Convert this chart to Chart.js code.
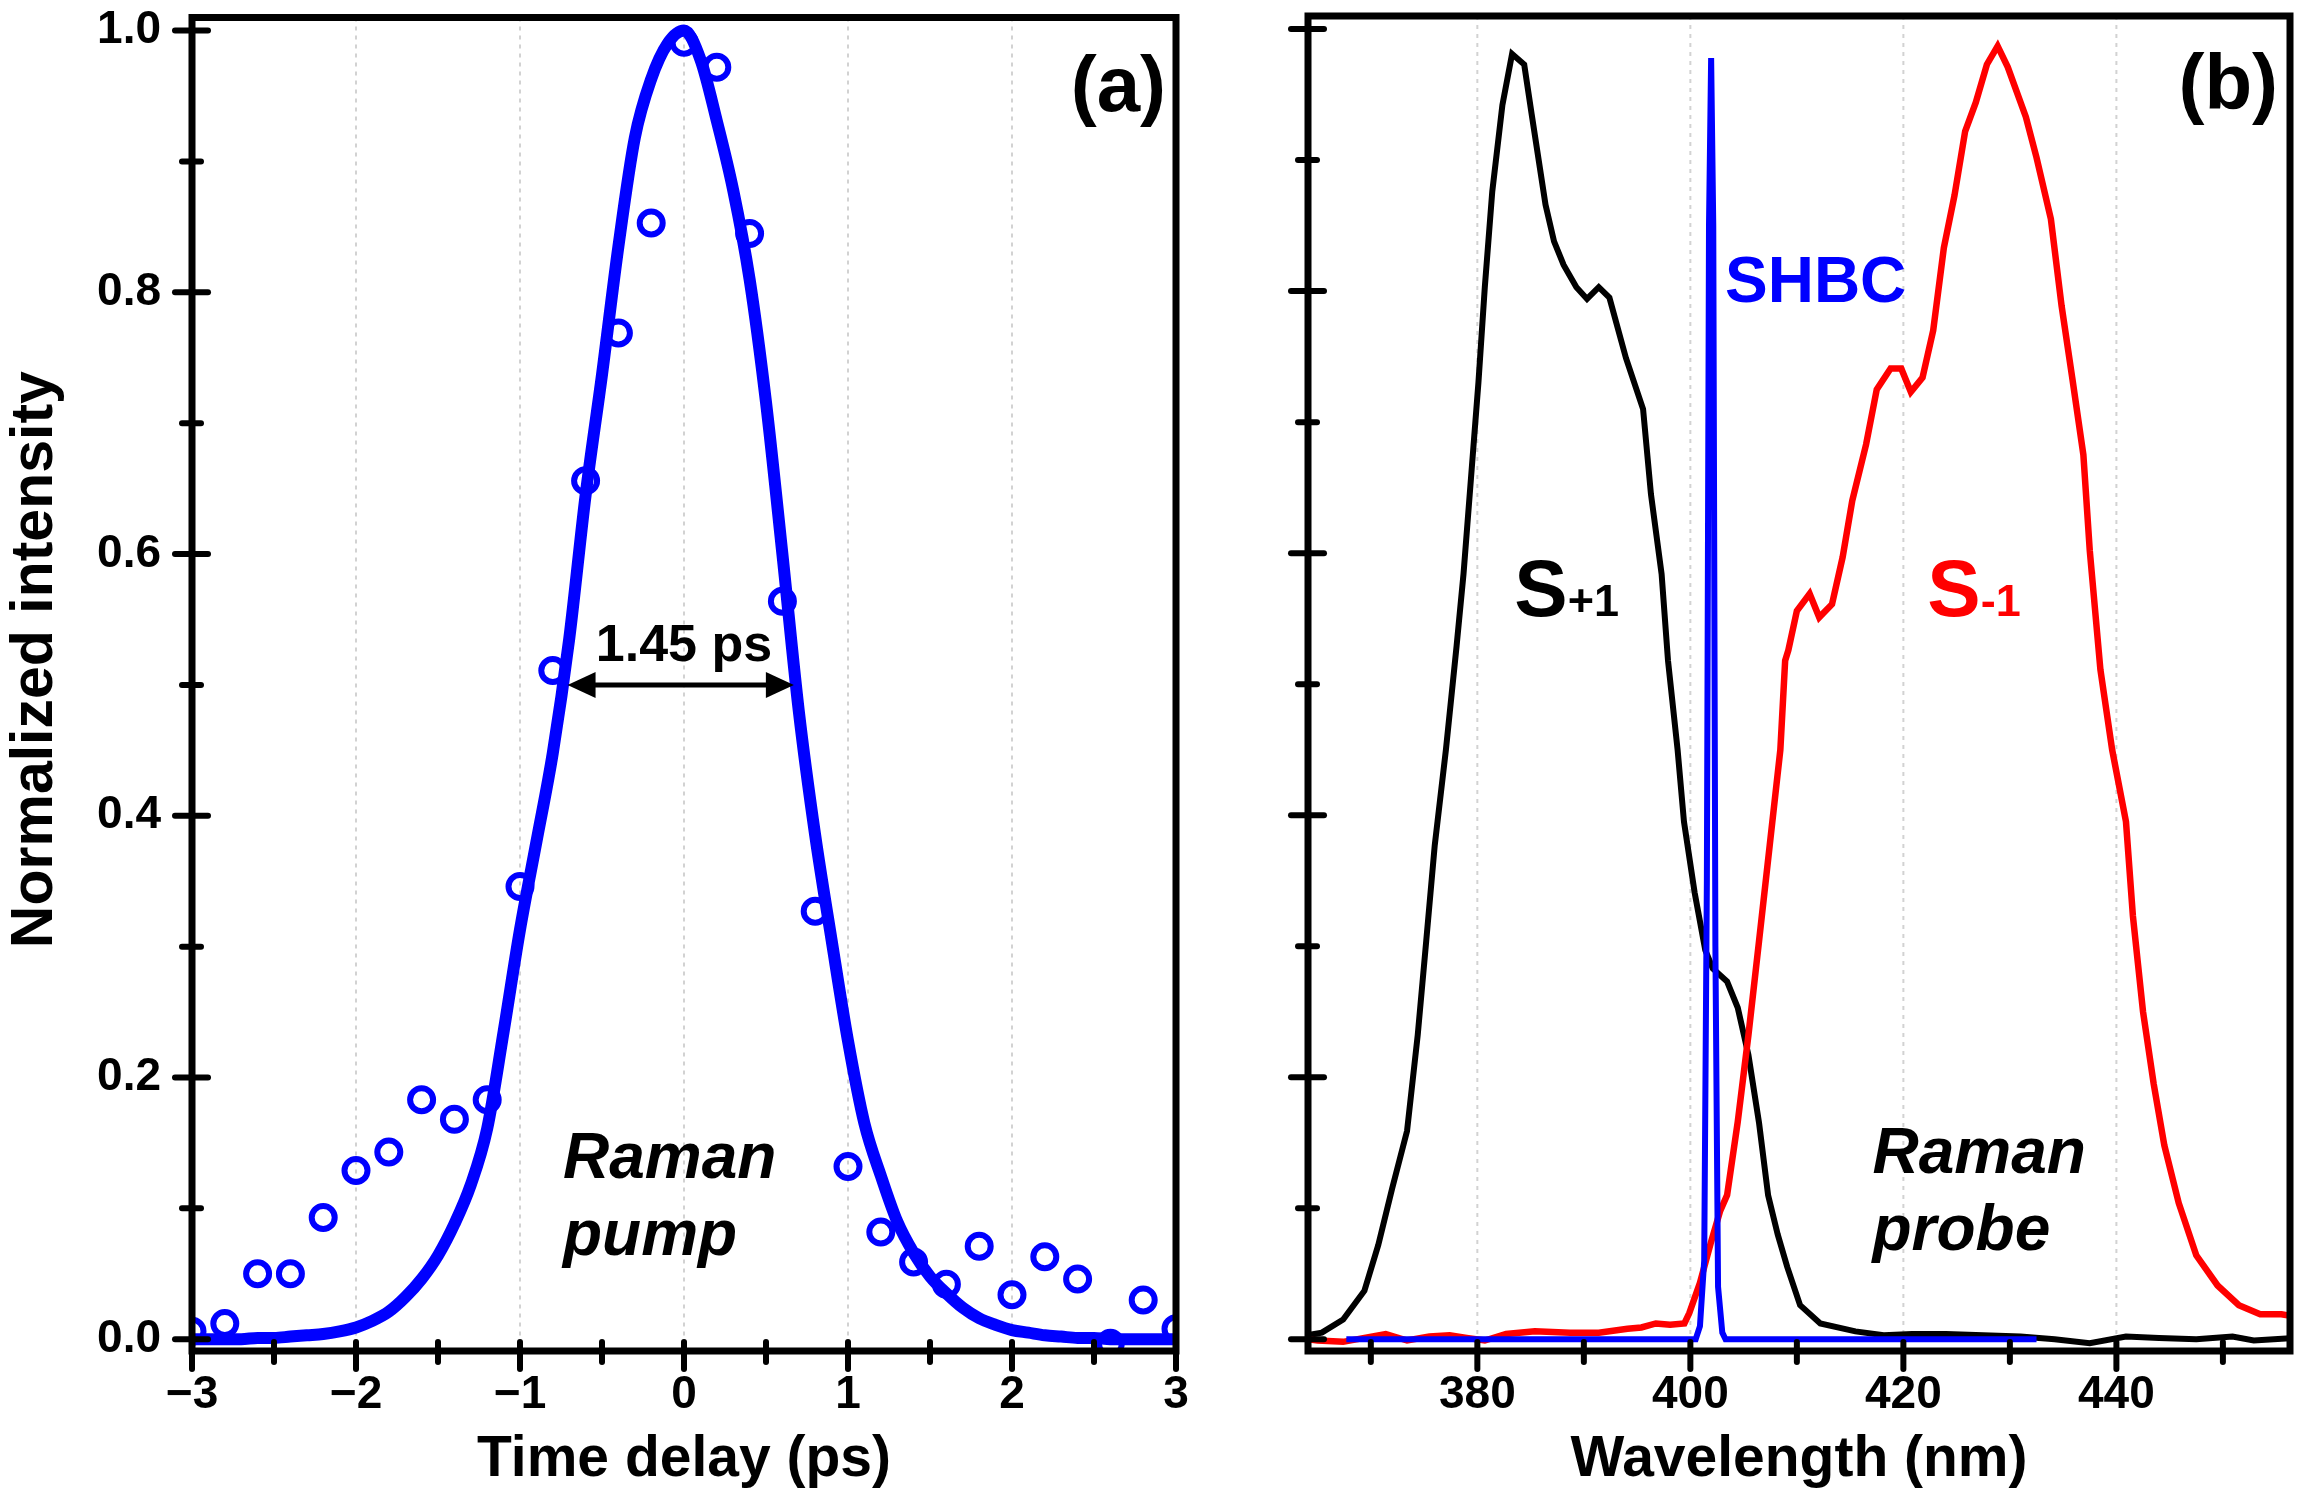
<!DOCTYPE html>
<html>
<head>
<meta charset="utf-8">
<script src="https://cdn.jsdelivr.net/npm/chart.js@4.4.1/dist/chart.umd.min.js"></script>
<style>
html,body{margin:0;padding:0;background:#fff;width:2308px;height:1496px;overflow:hidden}
canvas{position:absolute;top:0}
#ca{left:0}
#cb{left:1240px}
</style>
</head>
<body>
<canvas id="ca" width="1240" height="1496"></canvas>
<canvas id="cb" width="1068" height="1496"></canvas>
<script>
// ---------- Panel (a): time delay data ----------
const ptT = [-3.0,-2.8,-2.6,-2.4,-2.2,-2.0,-1.8,-1.6,-1.4,-1.2,-1.0,-0.8,-0.6,-0.4,-0.2,0.0,0.2,0.4,0.6,0.8,1.0,1.2,1.4,1.6,1.8,2.0,2.2,2.4,2.6,2.8,3.0];
const ptI = [0.006,0.012,0.050,0.050,0.093,0.129,0.143,0.183,0.168,0.183,0.346,0.511,0.656,0.769,0.853,0.991,0.972,0.845,0.564,0.327,0.132,0.082,0.059,0.042,0.071,0.034,0.063,0.046,-0.003,0.030,0.008];

const fitT = [-3.0,-2.9,-2.8,-2.7,-2.6,-2.5,-2.4,-2.3,-2.2,-2.1,-2.0,-1.9,-1.8,-1.7,-1.6,-1.5,-1.4,-1.3,-1.2,-1.1,-1.0,-0.9,-0.8,-0.7,-0.6,-0.5,-0.4,-0.3,-0.2,-0.1,0.0,0.1,0.2,0.3,0.4,0.5,0.6,0.7,0.8,0.9,1.0,1.1,1.2,1.3,1.4,1.5,1.6,1.7,1.8,1.9,2.0,2.1,2.2,2.3,2.4,2.5,2.6,2.7,2.8,2.9,3.0];
const fitI = [0.000,0.000,0.000,0.000,0.001,0.001,0.002,0.003,0.004,0.006,0.009,0.014,0.021,0.032,0.046,0.064,0.088,0.118,0.161,0.235,0.313,0.380,0.448,0.535,0.645,0.737,0.835,0.918,0.963,0.990,1.000,0.978,0.931,0.878,0.810,0.716,0.600,0.480,0.385,0.305,0.228,0.165,0.125,0.090,0.066,0.048,0.035,0.024,0.016,0.011,0.007,0.005,0.003,0.002,0.001,0.001,0.000,0.000,0.000,0.000,0.000];

const aXTicks = [-3,-2,-1,0,1,2,3];
const aXTickLabels = ['\u22123','\u22122','\u22121','0','1','2','3'];
const aXMinor = [-2.5,-1.5,-0.5,0.5,1.5,2.5];
const aGrid = [-2,-1,0,1,2];
const yTicks = [0,0.2,0.4,0.6,0.8,1.0];
const yTickLabels = ['0.0','0.2','0.4','0.6','0.8','1.0'];
const yMinor = [0.1,0.3,0.5,0.7,0.9];
const aXTitle = 'Time delay (ps)';
const aYTitle = 'Normalized intensity';
const aPanel = '(a)';
const aFwhm = '1.45 ps';
const aText = ['Raman','pump'];

// ---------- Panel (b): spectra ----------
const blackNm = [364.0,365.4,367.4,369.4,370.7,372.0,373.4,374.4,375.2,376.0,377.05,378.05,378.7,379.4,380.1,380.7,381.4,382.35,383.26,384.4,385.1,386.4,387.2,388.1,389.3,390.3,391.4,392.4,393.95,395.56,396.3,397.3,397.9,398.8,399.4,400.4,401.4,402.1,403.45,404.45,405.45,406.45,407.3,408.2,409.1,410.3,412.2,415.5,418.15,420.8,424.0,427.5,431.0,434.2,437.5,440.9,444.0,447.5,450.9,452.9,456.9];
const blackInt = [0.003,0.005,0.015,0.037,0.072,0.115,0.159,0.232,0.304,0.377,0.450,0.529,0.584,0.657,0.730,0.803,0.876,0.942,0.981,0.973,0.935,0.866,0.838,0.820,0.803,0.794,0.803,0.795,0.749,0.710,0.645,0.584,0.518,0.450,0.395,0.341,0.297,0.283,0.273,0.253,0.217,0.165,0.110,0.080,0.055,0.026,0.012,0.006,0.003,0.004,0.004,0.003,0.002,0.000,-0.003,0.002,0.001,0.000,0.002,-0.001,0.001];

const redNm = [364.0,365.0,367.4,369.4,371.4,373.4,375.5,377.4,379.0,380.7,382.7,385.4,388.7,391.4,394.1,395.4,396.76,398.1,399.44,399.9,400.9,401.9,402.8,403.45,404.45,405.45,406.45,407.45,408.45,408.9,409.2,410.0,411.2,412.1,413.3,414.3,415.2,416.5,417.5,418.8,419.8,420.7,421.8,422.8,423.8,424.8,425.8,426.8,427.84,428.85,429.8,431.5,432.5,433.85,434.85,435.85,436.9,437.5,438.5,439.6,440.9,441.55,442.5,443.5,444.5,445.85,447.5,449.5,451.5,453.5,455.5,456.9];
const redInt = [0.000,-0.001,-0.002,0.001,0.004,-0.001,0.002,0.003,0.001,-0.001,0.004,0.006,0.005,0.005,0.008,0.009,0.012,0.011,0.012,0.020,0.043,0.073,0.098,0.110,0.166,0.232,0.304,0.377,0.450,0.518,0.526,0.556,0.569,0.551,0.561,0.597,0.640,0.683,0.725,0.741,0.741,0.723,0.734,0.770,0.833,0.873,0.922,0.944,0.973,0.987,0.971,0.933,0.902,0.855,0.789,0.734,0.675,0.602,0.511,0.450,0.395,0.323,0.250,0.195,0.148,0.104,0.064,0.041,0.026,0.019,0.019,0.017];

const blueNm = [367.7,400.5,400.9,401.3,401.55,401.75,401.95,402.15,402.35,402.6,403.0,403.3,432.5];
const blueInt = [0.000,0.000,0.010,0.060,0.350,0.850,0.978,0.850,0.300,0.040,0.005,0.000,0.000];

const bXTicks = [380,400,420,440];
const bXTickLabels = ['380','400','420','440'];
const bXMinor = [370,390,410,430,450];
const bGrid = [380,400,420,440];
const bXTitle = 'Wavelength (nm)';
const bPanel = '(b)';
const bShbc = 'SHBC';
const bSplus = ['S','+1'];
const bSminus = ['S','-1'];
const bText = ['Raman','probe'];

// ---------- styling ----------
const FONT = '"Liberation Sans", Arial, Helvetica, sans-serif';
const BLUE = '#0000ff';
const RED = '#ff0000';

function deco(cfg) {
  return {
    id: 'deco' + cfg.name,
    beforeDatasetsDraw(chart) {
      const {ctx, chartArea: a, scales: {x}} = chart;
      ctx.save();
      ctx.strokeStyle = '#d2d2d2';
      ctx.lineWidth = 2;
      ctx.setLineDash([4, 5]);
      cfg.grid.forEach(v => {
        const p = x.getPixelForValue(v);
        ctx.beginPath(); ctx.moveTo(p, a.top); ctx.lineTo(p, a.bottom); ctx.stroke();
      });
      ctx.restore();
    },
    afterDatasetsDraw(chart) {
      const {ctx, chartArea: a, scales: {x, y}} = chart;
      ctx.save();
      ctx.strokeStyle = '#000';
      ctx.lineCap = 'round';
      ctx.lineWidth = 6;
      const seg = (x1, y1, x2, y2) => { ctx.beginPath(); ctx.moveTo(x1, y1); ctx.lineTo(x2, y2); ctx.stroke(); };
      cfg.xMajor.forEach(v => { const p = x.getPixelForValue(v); seg(p, a.bottom - 9, p, a.bottom + 18); });
      cfg.xMinor.forEach(v => { const p = x.getPixelForValue(v); seg(p, a.bottom - 9, p, a.bottom + 11); });
      cfg.yMajor.forEach(v => { const p = y.getPixelForValue(v); seg(a.left - 17, p, a.left + 16, p); });
      cfg.yMinor.forEach(v => { const p = y.getPixelForValue(v); seg(a.left - 10, p, a.left + 9, p); });
      ctx.lineCap = 'butt';
      ctx.lineJoin = 'miter';
      ctx.lineWidth = 7;
      ctx.strokeRect(a.left, a.top, a.right - a.left, a.bottom - a.top);
      ctx.restore();
    },
    afterDraw(chart) { cfg.annotate(chart); }
  };
}

function annotateA(chart) {
  const {ctx, chartArea: a, scales: {x, y}} = chart;
  ctx.save();
  ctx.fillStyle = '#000';
  ctx.strokeStyle = '#000';
  ctx.textBaseline = 'alphabetic';
  ctx.font = 'bold 78px ' + FONT;
  ctx.textAlign = 'right';
  ctx.fillText(aPanel, a.right - 10, a.top + 93);
  ctx.font = 'bold 52px ' + FONT;
  ctx.textAlign = 'center';
  ctx.fillText(aFwhm, x.getPixelForValue(0.0), y.getPixelForValue(0.518));
  // double arrow at half maximum
  const ay = y.getPixelForValue(0.5);
  const x1 = x.getPixelForValue(-0.71), x2 = x.getPixelForValue(0.67);
  const hl = 28, hh = 13;
  ctx.lineWidth = 5;
  ctx.beginPath(); ctx.moveTo(x1 + hl - 2, ay); ctx.lineTo(x2 - hl + 2, ay); ctx.stroke();
  ctx.beginPath(); ctx.moveTo(x1, ay); ctx.lineTo(x1 + hl, ay - hh); ctx.lineTo(x1 + hl, ay + hh); ctx.closePath(); ctx.fill();
  ctx.beginPath(); ctx.moveTo(x2, ay); ctx.lineTo(x2 - hl, ay - hh); ctx.lineTo(x2 - hl, ay + hh); ctx.closePath(); ctx.fill();
  ctx.font = 'italic bold 64px ' + FONT;
  ctx.textAlign = 'left';
  ctx.fillText(aText[0], x.getPixelForValue(-0.738), y.getPixelForValue(0.123));
  ctx.fillText(aText[1], x.getPixelForValue(-0.738), y.getPixelForValue(0.064));
  ctx.restore();
}

function annotateB(chart) {
  const {ctx, chartArea: a, scales: {x, y}} = chart;
  ctx.save();
  ctx.textBaseline = 'alphabetic';
  ctx.fillStyle = '#000';
  ctx.font = 'bold 78px ' + FONT;
  ctx.textAlign = 'right';
  ctx.fillText(bPanel, a.right - 12, a.top + 93);
  ctx.textAlign = 'left';
  ctx.fillStyle = BLUE;
  ctx.font = 'bold 64px ' + FONT;
  ctx.fillText(bShbc, x.getPixelForValue(403.25), y.getPixelForValue(0.792));
  // S+1
  const sb = y.getPixelForValue(0.552);
  ctx.fillStyle = '#000';
  ctx.font = 'bold 80px ' + FONT;
  let sx = x.getPixelForValue(383.47);
  ctx.fillText(bSplus[0], sx, sb);
  let w = ctx.measureText(bSplus[0]).width;
  ctx.font = 'bold 45px ' + FONT;
  ctx.fillText(bSplus[1], sx + w, sb);
  // S-1
  ctx.fillStyle = RED;
  ctx.font = 'bold 80px ' + FONT;
  sx = x.getPixelForValue(422.25);
  ctx.fillText(bSminus[0], sx, sb);
  w = ctx.measureText(bSminus[0]).width;
  ctx.font = 'bold 45px ' + FONT;
  ctx.fillText(bSminus[1], sx + w, sb);
  // Raman probe
  ctx.fillStyle = '#000';
  ctx.font = 'italic bold 64px ' + FONT;
  ctx.fillText(bText[0], x.getPixelForValue(417.1), y.getPixelForValue(0.127));
  ctx.fillText(bText[1], x.getPixelForValue(417.1), y.getPixelForValue(0.068));
  ctx.restore();
}

const pts = (xs, ys) => xs.map((v, i) => ({x: v, y: ys[i]}));
const tickFont = {family: FONT, size: 46, weight: 'bold'};
const titleFont = {family: FONT, size: 57, weight: 'bold'};

function yScale(showLabels, width, title) {
  return {
    type: 'linear', min: -0.009, max: 1.01, bounds: 'data',
    grid: {display: false, drawTicks: false, tickLength: 0},
    border: {display: false},
    afterBuildTicks: s => { s.ticks = yTicks.map(v => ({value: v})); },
    afterFit: s => { s.width = width; s.paddingTop = 0; s.paddingBottom = 0; },
    ticks: {display: showLabels, autoSkip: false, padding: 31, color: '#000', font: tickFont,
            callback: (v, i) => yTickLabels[i]},
    title: {display: !!title, text: title ? '   ' + title : '', color: '#000',
            font: {family: FONT, size: 59, weight: 'bold', lineHeight: 1.2}, padding: {top: 0, bottom: 0}}
  };
}

function xScale(min, max, ticks, labels, title) {
  return {
    type: 'linear', min: min, max: max, bounds: 'data',
    grid: {display: false, drawTicks: false, tickLength: 0},
    border: {display: false},
    afterBuildTicks: s => { s.ticks = ticks.map(v => ({value: v})); },
    afterFit: s => { s.height = 145; s.paddingLeft = 0; s.paddingRight = 0; },
    ticks: {autoSkip: false, maxRotation: 0, minRotation: 0, padding: 17, color: '#000', font: tickFont,
            callback: (v, i) => labels[i]},
    title: {display: true, text: title, color: '#000', font: Object.assign({lineHeight: 1.2}, titleFont), padding: {top: 0, bottom: 2}}
  };
}

const common = {
  responsive: false, animation: false, devicePixelRatio: 1, events: [],
  plugins: {legend: {display: false}, tooltip: {enabled: false}}
};

new Chart(document.getElementById('ca'), {
  type: 'line',
  data: {
    datasets: [
      {data: pts(ptT, ptI), showLine: false, pointStyle: 'circle', pointRadius: 11.5, pointBorderWidth: 6,
       pointBorderColor: BLUE, pointBackgroundColor: 'rgba(0,0,0,0)', borderColor: BLUE, clip: 0},
      {data: pts(fitT, fitI), borderColor: BLUE, borderWidth: 12, pointRadius: 0,
       cubicInterpolationMode: 'monotone', fill: false, clip: 0}
    ]
  },
  options: Object.assign({}, common, {
    layout: {padding: {top: 16, right: 64, left: 0, bottom: 0}},
    scales: {
      x: xScale(-3, 3, aXTicks, aXTickLabels, aXTitle),
      y: yScale(true, 192, aYTitle)
    }
  }),
  plugins: [deco({name: 'A', grid: aGrid, xMajor: aXTicks, xMinor: aXMinor, yMajor: yTicks, yMinor: yMinor, annotate: annotateA})]
});

new Chart(document.getElementById('cb'), {
  type: 'line',
  data: {
    datasets: [
      {data: pts(blueNm, blueInt), borderColor: BLUE, borderWidth: 6, pointRadius: 0, tension: 0, fill: false, clip: 0},
      {data: pts(redNm, redInt), borderColor: RED, borderWidth: 6.5, pointRadius: 0, tension: 0, fill: false, clip: 0},
      {data: pts(blackNm, blackInt), borderColor: '#000', borderWidth: 6, pointRadius: 0, tension: 0, fill: false, clip: 0}
    ]
  },
  options: Object.assign({}, common, {
    layout: {padding: {top: 16, right: 18, left: 0, bottom: 0}},
    scales: {
      x: xScale(364.1, 456.3, bXTicks, bXTickLabels, bXTitle),
      y: yScale(false, 68, null)
    }
  }),
  plugins: [deco({name: 'B', grid: bGrid, xMajor: bXTicks, xMinor: bXMinor, yMajor: yTicks, yMinor: yMinor, annotate: annotateB})]
});
</script>
</body>
</html>
